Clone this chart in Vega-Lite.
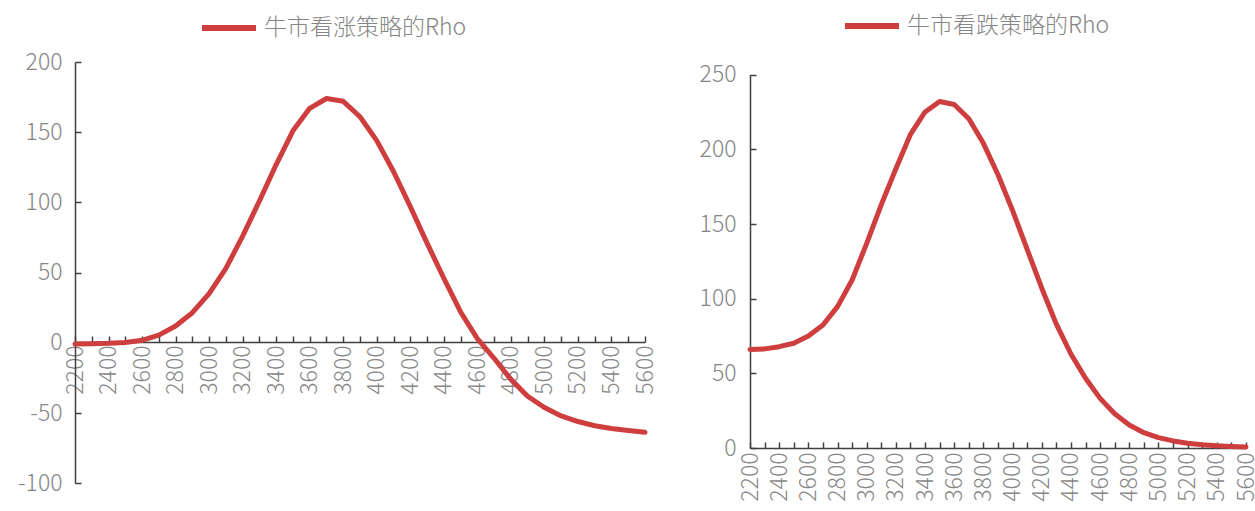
{
  "$schema": "https://vega.github.io/schema/vega-lite/v6.json",
  "width": 1255,
  "height": 511,
  "padding": 0,
  "autosize": {"type": "none"},
  "background": "white",
  "config": {
    "view": {"stroke": null},
    "axis": {
      "grid": false,
      "domainColor": "#404040",
      "domainWidth": 1.5,
      "tickColor": "#404040",
      "tickWidth": 1.5,
      "tickSize": -6,
      "labelFont": "Noto Sans CJK SC",
      "labelFontSize": 23,
      "labelFontWeight": 300,
      "labelColor": "#868686",
      "labelFlush": false,
      "labelOverlap": false,
      "labelBound": false,
      "title": null
    },
    "legend": {
      "title": null,
      "orient": "none",
      "symbolType": "stroke",
      "symbolSize": 2916,
      "symbolStrokeWidth": 6,
      "labelFont": "Noto Sans CJK SC",
      "labelFontSize": 23,
      "labelFontWeight": 300,
      "labelColor": "#868686",
      "labelLimit": 0,
      "labelOffset": 5,
      "padding": 0
    }
  },
  "data": {
    "values": [
      {"strategy": "牛市看涨策略的Rho", "price": 2200, "rho": -0.8},
      {"strategy": "牛市看涨策略的Rho", "price": 2300, "rho": -0.6},
      {"strategy": "牛市看涨策略的Rho", "price": 2400, "rho": -0.3},
      {"strategy": "牛市看涨策略的Rho", "price": 2500, "rho": 0.3},
      {"strategy": "牛市看涨策略的Rho", "price": 2600, "rho": 1.8},
      {"strategy": "牛市看涨策略的Rho", "price": 2700, "rho": 5.5},
      {"strategy": "牛市看涨策略的Rho", "price": 2800, "rho": 12},
      {"strategy": "牛市看涨策略的Rho", "price": 2900, "rho": 21.5},
      {"strategy": "牛市看涨策略的Rho", "price": 3000, "rho": 35},
      {"strategy": "牛市看涨策略的Rho", "price": 3100, "rho": 53},
      {"strategy": "牛市看涨策略的Rho", "price": 3200, "rho": 76},
      {"strategy": "牛市看涨策略的Rho", "price": 3300, "rho": 101},
      {"strategy": "牛市看涨策略的Rho", "price": 3400, "rho": 127},
      {"strategy": "牛市看涨策略的Rho", "price": 3500, "rho": 151},
      {"strategy": "牛市看涨策略的Rho", "price": 3600, "rho": 167},
      {"strategy": "牛市看涨策略的Rho", "price": 3700, "rho": 174},
      {"strategy": "牛市看涨策略的Rho", "price": 3800, "rho": 172},
      {"strategy": "牛市看涨策略的Rho", "price": 3900, "rho": 161},
      {"strategy": "牛市看涨策略的Rho", "price": 4000, "rho": 144},
      {"strategy": "牛市看涨策略的Rho", "price": 4100, "rho": 122},
      {"strategy": "牛市看涨策略的Rho", "price": 4200, "rho": 97},
      {"strategy": "牛市看涨策略的Rho", "price": 4300, "rho": 71},
      {"strategy": "牛市看涨策略的Rho", "price": 4400, "rho": 46},
      {"strategy": "牛市看涨策略的Rho", "price": 4500, "rho": 22},
      {"strategy": "牛市看涨策略的Rho", "price": 4600, "rho": 3},
      {"strategy": "牛市看涨策略的Rho", "price": 4700, "rho": -11},
      {"strategy": "牛市看涨策略的Rho", "price": 4800, "rho": -26},
      {"strategy": "牛市看涨策略的Rho", "price": 4900, "rho": -38},
      {"strategy": "牛市看涨策略的Rho", "price": 5000, "rho": -46},
      {"strategy": "牛市看涨策略的Rho", "price": 5100, "rho": -52},
      {"strategy": "牛市看涨策略的Rho", "price": 5200, "rho": -56},
      {"strategy": "牛市看涨策略的Rho", "price": 5300, "rho": -59},
      {"strategy": "牛市看涨策略的Rho", "price": 5400, "rho": -61},
      {"strategy": "牛市看涨策略的Rho", "price": 5500, "rho": -62.4},
      {"strategy": "牛市看涨策略的Rho", "price": 5600, "rho": -63.6},
      {"strategy": "牛市看跌策略的Rho", "price": 2200, "rho": 66},
      {"strategy": "牛市看跌策略的Rho", "price": 2300, "rho": 66.4},
      {"strategy": "牛市看跌策略的Rho", "price": 2400, "rho": 67.9},
      {"strategy": "牛市看跌策略的Rho", "price": 2500, "rho": 70.2},
      {"strategy": "牛市看跌策略的Rho", "price": 2600, "rho": 75},
      {"strategy": "牛市看跌策略的Rho", "price": 2700, "rho": 82.4},
      {"strategy": "牛市看跌策略的Rho", "price": 2800, "rho": 94.7},
      {"strategy": "牛市看跌策略的Rho", "price": 2900, "rho": 112.5},
      {"strategy": "牛市看跌策略的Rho", "price": 3000, "rho": 137},
      {"strategy": "牛市看跌策略的Rho", "price": 3100, "rho": 163},
      {"strategy": "牛市看跌策略的Rho", "price": 3200, "rho": 187},
      {"strategy": "牛市看跌策略的Rho", "price": 3300, "rho": 210},
      {"strategy": "牛市看跌策略的Rho", "price": 3400, "rho": 225},
      {"strategy": "牛市看跌策略的Rho", "price": 3500, "rho": 232},
      {"strategy": "牛市看跌策略的Rho", "price": 3600, "rho": 230},
      {"strategy": "牛市看跌策略的Rho", "price": 3700, "rho": 220.5},
      {"strategy": "牛市看跌策略的Rho", "price": 3800, "rho": 204},
      {"strategy": "牛市看跌策略的Rho", "price": 3900, "rho": 183},
      {"strategy": "牛市看跌策略的Rho", "price": 4000, "rho": 159},
      {"strategy": "牛市看跌策略的Rho", "price": 4100, "rho": 133},
      {"strategy": "牛市看跌策略的Rho", "price": 4200, "rho": 107},
      {"strategy": "牛市看跌策略的Rho", "price": 4300, "rho": 83},
      {"strategy": "牛市看跌策略的Rho", "price": 4400, "rho": 63},
      {"strategy": "牛市看跌策略的Rho", "price": 4500, "rho": 46.7},
      {"strategy": "牛市看跌策略的Rho", "price": 4600, "rho": 33.3},
      {"strategy": "牛市看跌策略的Rho", "price": 4700, "rho": 23},
      {"strategy": "牛市看跌策略的Rho", "price": 4800, "rho": 15.5},
      {"strategy": "牛市看跌策略的Rho", "price": 4900, "rho": 10.3},
      {"strategy": "牛市看跌策略的Rho", "price": 5000, "rho": 7},
      {"strategy": "牛市看跌策略的Rho", "price": 5100, "rho": 4.8},
      {"strategy": "牛市看跌策略的Rho", "price": 5200, "rho": 3.2},
      {"strategy": "牛市看跌策略的Rho", "price": 5300, "rho": 2.2},
      {"strategy": "牛市看跌策略的Rho", "price": 5400, "rho": 1.5},
      {"strategy": "牛市看跌策略的Rho", "price": 5500, "rho": 1.1},
      {"strategy": "牛市看跌策略的Rho", "price": 5600, "rho": 0.8}
    ]
  },
  "layer": [
    {
      "transform": [{"filter": "datum.strategy === '牛市看涨策略的Rho'"}],
      "mark": {"type": "line", "strokeWidth": 5, "strokeCap": "round", "strokeJoin": "round"},
      "encoding": {
        "x": {
          "field": "price", "type": "quantitative",
          "scale": {"domain": [2200, 5600], "range": [75, 645], "nice": false, "zero": false},
          "axis": {
            "orient": "bottom", "offset": -169,
            "values": [2200, 2300, 2400, 2500, 2600, 2700, 2800, 2900, 3000, 3100, 3200, 3300, 3400, 3500, 3600, 3700, 3800, 3900, 4000, 4100, 4200, 4300, 4400, 4500, 4600, 4700, 4800, 4900, 5000, 5100, 5200, 5300, 5400, 5500, 5600],
            "format": "d",
            "labelExpr": "datum.value % 200 === 0 ? datum.label : ''",
            "labelAngle": 270, "labelAlign": "right", "labelBaseline": "middle", "labelPadding": 9
          }
        },
        "y": {
          "field": "rho", "type": "quantitative",
          "scale": {"domain": [-100, 200], "range": [483.3, 62], "nice": false, "zero": false},
          "axis": {
            "orient": "left", "offset": -75,
            "values": [-100, -50, 0, 50, 100, 150, 200],
            "labelExpr": "replace(datum.label, '−', '-')",
            "labelPadding": 19
          }
        },
        "color": {
          "field": "strategy", "type": "nominal",
          "scale": {"range": ["#cf3e3e"]},
          "legend": {"legendX": 199, "legendY": -2}
        }
      }
    },
    {
      "transform": [{"filter": "datum.strategy === '牛市看跌策略的Rho'"}],
      "mark": {"type": "line", "strokeWidth": 5, "strokeCap": "round", "strokeJoin": "round"},
      "encoding": {
        "x": {
          "field": "price", "type": "quantitative",
          "scale": {"domain": [2200, 5600], "range": [750, 1246], "nice": false, "zero": false},
          "axis": {
            "orient": "bottom", "offset": -63,
            "values": [2200, 2300, 2400, 2500, 2600, 2700, 2800, 2900, 3000, 3100, 3200, 3300, 3400, 3500, 3600, 3700, 3800, 3900, 4000, 4100, 4200, 4300, 4400, 4500, 4600, 4700, 4800, 4900, 5000, 5100, 5200, 5300, 5400, 5500, 5600],
            "format": "d",
            "labelExpr": "datum.value % 200 === 0 ? datum.label : ''",
            "labelAngle": 270, "labelAlign": "right", "labelBaseline": "middle", "labelPadding": 10
          }
        },
        "y": {
          "field": "rho", "type": "quantitative",
          "scale": {"domain": [0, 250], "range": [448.1, 74.6], "nice": false, "zero": false},
          "axis": {"orient": "left", "offset": -750, "values": [0, 50, 100, 150, 200, 250], "labelPadding": 20}
        },
        "color": {
          "field": "strategy", "type": "nominal",
          "scale": {"range": ["#cf3e3e"]},
          "legend": {"legendX": 842, "legendY": -4}
        }
      }
    }
  ],
  "resolve": {
    "scale": {"x": "independent", "y": "independent", "color": "independent"},
    "axis": {"x": "independent", "y": "independent"},
    "legend": {"color": "independent"}
  }
}
